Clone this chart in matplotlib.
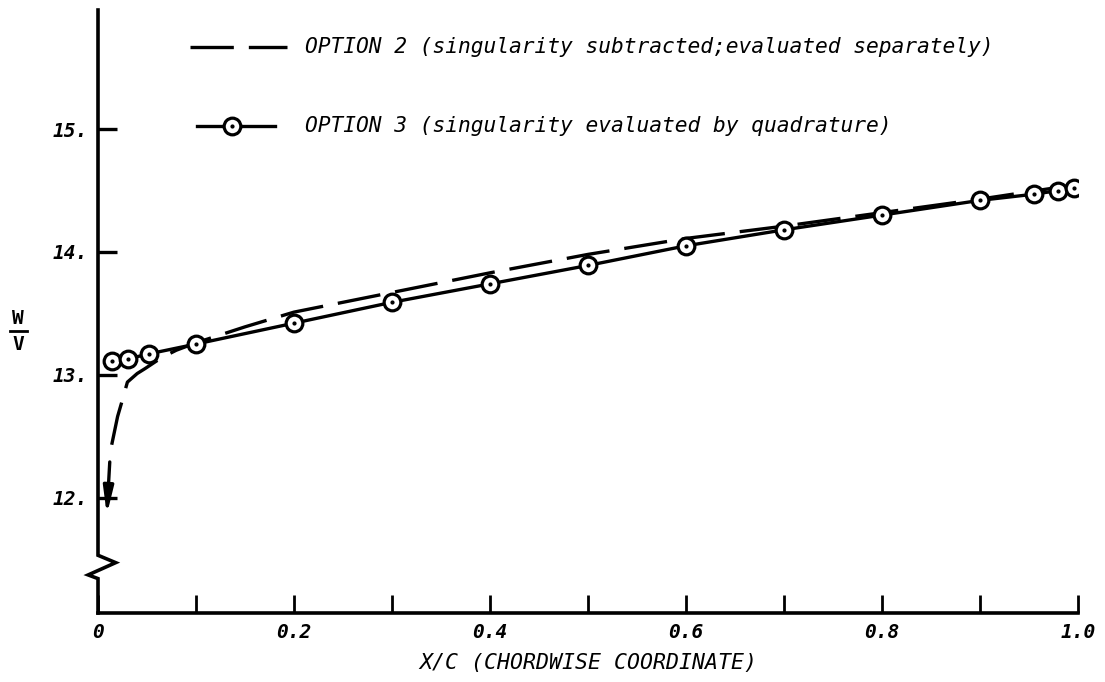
import matplotlib
matplotlib.use("Agg")
import matplotlib.pyplot as plt
import numpy as np

# ---- data ----
# Option 2: singularity subtracted, evaluated separately (dashed)
opt2_x = [0.014, 0.020, 0.024, 0.030, 0.040, 0.048, 0.065, 0.080, 0.10, 0.15,
          0.20, 0.30, 0.40, 0.50, 0.60, 0.70, 0.80, 0.90, 1.00]
opt2_y = [12.43, 12.66, 12.77, 12.94, 13.01, 13.05, 13.14, 13.20, 13.26, 13.39,
          13.51, 13.67, 13.83, 13.98, 14.11, 14.21, 14.32, 14.43, 14.55]
# arrow at the leading edge of option 2 (tail, tip)
opt2_arrow_x = [0.012, 0.009]
opt2_arrow_y = [12.29, 11.86]

# Option 3: singularity evaluated by quadrature (circles)
opt3_x = [0.014, 0.031, 0.052, 0.10, 0.20, 0.30, 0.40, 0.50, 0.60, 0.70,
          0.80, 0.90, 0.955, 0.98, 0.996]
opt3_y = [13.11, 13.13, 13.17, 13.25, 13.42, 13.59, 13.74, 13.89, 14.05, 14.18,
          14.30, 14.42, 14.47, 14.50, 14.52]

x_ticks = [0.1 * i for i in range(11)]
x_ticklabels = ["0", "", "0.2", "", "0.4", "", "0.6", "", "0.8", "", "1.0"]
y_ticks = [12, 13, 14, 15]
y_ticklabels = ["12.", "13.", "14.", "15."]

label_opt2 = "OPTION 2 (singularity subtracted;evaluated separately)"
label_opt3 = "OPTION 3 (singularity evaluated by quadrature)"

FONT = "DejaVu Sans Mono"
tick_font = dict(family=FONT, style="oblique", weight="bold", size=14)
text_font = dict(family=FONT, style="oblique", size=15.3)

fig = plt.figure(figsize=(11.05, 6.82), dpi=100)
ax = fig.add_axes([98 / 1105, 69 / 682, 980 / 1105, 603 / 682])
ax.set_xlim(0, 1.0)
ax.set_ylim(11.06, 15.97)

for side in ["top", "right", "left"]:
    ax.spines[side].set_visible(False)
ax.spines["bottom"].set_linewidth(2.6)

# left axis with a break (zigzag) near the bottom
brk_x = [0, 0, 0.018, -0.010, 0, 0]
brk_y = [15.97, 11.53, 11.47, 11.37, 11.34, 11.06]
ax.plot(brk_x, brk_y, color="k", lw=2.6, clip_on=False, solid_joinstyle="miter")

# ticks
ax.set_xticks(x_ticks)
ax.set_xticklabels(x_ticklabels, **tick_font)
ax.set_yticks(y_ticks)
ax.set_yticklabels(y_ticklabels, **tick_font)
ax.tick_params(axis="x", direction="in", length=13, width=2.0, pad=7)
ax.tick_params(axis="y", direction="in", length=14, width=2.4, pad=7)

# curves
ax.plot(opt2_x, opt2_y, color="k", lw=2.4, dashes=(13, 4.5), solid_capstyle="butt")
ax.annotate("", xy=(opt2_arrow_x[1], opt2_arrow_y[1]),
            xytext=(opt2_arrow_x[0], opt2_arrow_y[0]),
            arrowprops=dict(arrowstyle="-|>,head_length=1.6,head_width=0.3",
                            color="k", lw=2.4, shrinkA=0, shrinkB=0))

ax.plot(opt3_x, opt3_y, color="k", lw=2.4, marker="o", ms=12, mfc="white",
        mec="k", mew=2.3, zorder=3)
ax.plot(opt3_x, opt3_y, ls="none", marker=".", ms=4, color="k", zorder=4)

# legend drawn by hand in axes fraction
tr = ax.transAxes
ax.plot([0.094, 0.193], [0.938, 0.938], transform=tr, color="k", lw=2.4,
        dashes=(13, 4.5), clip_on=False)
ax.text(0.211, 0.938, label_opt2, transform=tr, va="center", ha="left", **text_font)
ax.plot([0.101, 0.181], [0.808, 0.808], transform=tr, color="k", lw=2.4,
        clip_on=False)
ax.plot([0.137], [0.808], transform=tr, marker="o", ms=12, mfc="white",
        mec="k", mew=2.3, clip_on=False)
ax.plot([0.137], [0.808], transform=tr, marker=".", ms=4, color="k", clip_on=False)
ax.text(0.211, 0.808, label_opt3, transform=tr, va="center", ha="left", **text_font)

# axis labels
ax.set_xlabel("X/C (CHORDWISE COORDINATE)", family=FONT, style="oblique",
              size=15.5, labelpad=8)
fig.text(18 / 1105, 1 - 318 / 682, "W", family=FONT, weight="bold", size=14,
         ha="center", va="center")
fig.text(18 / 1105, 1 - 345 / 682, "V", family=FONT, weight="bold", size=14,
         ha="center", va="center")
fig.add_artist(plt.Line2D([10 / 1105, 27 / 1105], [1 - 331 / 682, 1 - 331 / 682],
                          color="k", lw=2))

fig.savefig("out.png", dpi=100)
